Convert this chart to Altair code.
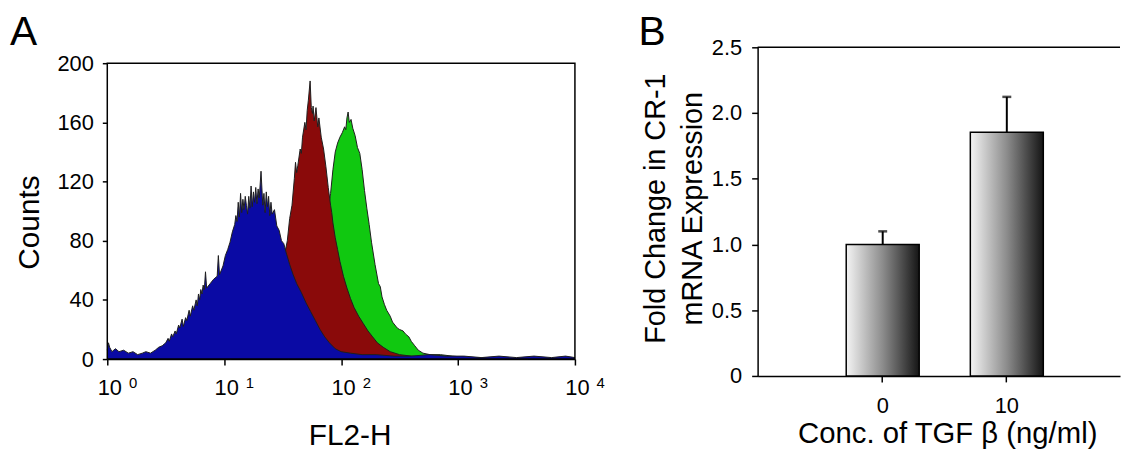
import altair as alt
import pandas as pd
import numpy as np

# ---------------- Panel A: flow-cytometry histograms ----------------
# log10(FL2-H) positions and counts
blue_log = [0.00, 0.01, 0.02, 0.04, 0.07, 0.10, 0.14, 0.18, 0.22, 0.26, 0.30, 0.33, 0.37, 0.41,
            0.44, 0.47, 0.50, 0.52, 0.53, 0.55, 0.56, 0.58, 0.59, 0.61, 0.62, 0.64, 0.65, 0.67,
            0.68, 0.70, 0.71, 0.73, 0.74, 0.76, 0.77, 0.78, 0.79, 0.80, 0.81, 0.82, 0.83,
            0.84, 0.85, 0.88, 0.91, 0.94, 0.95, 0.96, 0.99, 1.01, 1.03, 1.05, 1.07, 1.09,
            1.10, 1.11, 1.12, 1.13, 1.14, 1.15, 1.16, 1.17, 1.18, 1.19, 1.20, 1.21, 1.22, 1.23,
            1.24, 1.25, 1.26, 1.27, 1.28, 1.29, 1.30, 1.315, 1.33, 1.34, 1.35, 1.36, 1.37, 1.38,
            1.39, 1.40, 1.41, 1.43, 1.45, 1.47, 1.49, 1.51, 1.53, 1.56, 1.59, 1.62, 1.66,
            1.70, 1.74, 1.78, 1.82, 1.86, 1.90, 1.95, 2.00, 2.08, 2.18, 2.30, 2.45, 2.60, 2.75,
            2.90, 3.05, 3.20, 3.35, 3.50, 3.65, 3.80, 3.92, 4.00]
blue_cnt = [6, 11, 8, 5, 7, 5, 6, 4, 5, 3, 4, 5, 4, 6,
            8, 9, 11, 14, 12, 17, 15, 19, 17, 23, 21, 27, 22, 28,
            26, 33, 29, 36, 33, 40, 36, 44, 40, 47, 44, 50, 47,
            59, 48, 51, 54, 56, 70, 57, 63, 70, 74, 79, 86, 91,
            97, 93, 106, 96, 112, 99, 108, 101, 110, 104, 98, 110, 102, 117,
            103, 113, 106, 116, 105, 115, 109, 127, 104, 112, 99, 113, 103, 110,
            97, 106, 98, 101, 90, 87, 80, 78, 72, 64, 57, 51, 45,
            38, 32, 26, 20, 15, 11, 7, 5, 4, 3, 3, 2, 2, 3,
            2, 2, 1, 2, 1, 2, 1, 2, 1]

red_log = [1.05, 1.15, 1.25, 1.33, 1.40, 1.45, 1.49, 1.52, 1.54, 1.56, 1.58, 1.60, 1.61, 1.62,
           1.63, 1.65, 1.66, 1.67, 1.69, 1.70, 1.71, 1.72, 1.735, 1.745, 1.755, 1.76, 1.77,
           1.785, 1.80, 1.81, 1.83, 1.85, 1.87, 1.89, 1.91, 1.92, 1.93, 1.95, 1.97, 1.99, 2.02,
           2.05, 2.08, 2.11, 2.15, 2.19, 2.23, 2.27, 2.31, 2.36, 2.42, 2.50, 2.60, 2.75, 3.00,
           3.40]
red_cnt = [0, 2, 5, 10, 20, 35, 55, 72, 80, 95, 104, 122, 133, 126,
           131, 142, 139, 150, 160, 155, 168, 175, 188, 170, 166, 171, 161,
           170, 157, 163, 150, 142, 130, 116, 104, 99, 92, 82, 74, 66, 56,
           48, 41, 35, 29, 24, 19, 15, 11, 8, 5, 3, 2, 1, 1,
           0]

green_log = [1.55, 1.65, 1.72, 1.78, 1.82, 1.85, 1.88, 1.91, 1.93, 1.95, 1.97, 1.99, 2.01, 2.03,
             2.04, 2.05, 2.06, 2.07, 2.085, 2.10, 2.12, 2.14, 2.16, 2.18, 2.20, 2.22, 2.24, 2.26,
             2.29, 2.32, 2.335, 2.35, 2.37, 2.39, 2.42, 2.44, 2.46, 2.48, 2.50, 2.53, 2.55, 2.58,
             2.60, 2.63, 2.66, 2.70, 2.76, 2.85, 2.95, 3.10, 3.30, 3.60]
green_cnt = [0, 4, 14, 30, 50, 72, 95, 112, 128, 140, 146, 150, 153, 157,
             155, 163, 167, 160, 162, 156, 151, 143, 139, 128, 114, 102, 91, 79,
             64, 51, 49, 42, 37, 33, 29, 25, 23, 21, 20, 19, 17, 15,
             12, 9, 6, 4, 3, 3, 2, 1, 1, 0]

decade_exponents = [0, 1, 2, 3, 4]
count_ticks = [0, 40, 80, 120, 160, 200]
panel_letters = ["A", "B"]

# ---------------- Panel B: bar chart ----------------
conc_labels = ["0", "10"]
fold_mean = [1.0, 1.853]
fold_err = [0.10, 0.27]
fold_ticks = [0, 0.5, 1.0, 1.5, 2.0, 2.5]

FONT = "Liberation Sans"

# ---------- Panel A ----------
WA, HA = 471, 314
YMAX_A = 200 * HA / 298.0

def hist_df(logs, cnts):
    return pd.DataFrame({"FL2": np.power(10.0, np.array(logs)), "count": cnts})

XA = alt.X("FL2:Q",
           scale=alt.Scale(type="log", domain=[1, 10000], nice=False),
           axis=alt.Axis(values=[10 ** e for e in decade_exponents], labelExpr="'10'",
                         labelFlush=False, labelOverlap=False, labelFontSize=22,
                         labelPadding=13, labelOffset=2, tickSize=6, grid=False,
                         title="FL2-H", titleFontSize=30, titleX=244, titleY=86,
                         titleBaseline="alphabetic"))
YA = alt.Y("count:Q",
           scale=alt.Scale(domain=[0, YMAX_A], nice=False, zero=True),
           axis=alt.Axis(values=count_ticks, domain=False, labelFontSize=22, labelPadding=9,
                         tickSize=5, grid=False, title="Counts", titleFontSize=30,
                         titleX=-69, titleY=176, titleBaseline="alphabetic"))

def area_layer(logs, cnts, col):
    return alt.Chart(hist_df(logs, cnts)).mark_area(
        color=col, opacity=1,
        line={"color": "#1e1e1e", "strokeWidth": 1}
    ).encode(x=XA, y=YA)

green_a = area_layer(green_log, green_cnt, "#10c810")
red_a = area_layer(red_log, red_cnt, "#8a0a0a")
blue_a = area_layer(blue_log, blue_cnt, "#0a0aa4")

frame_df = pd.DataFrame({"FL2": [10 ** decade_exponents[0]], "FL2b": [10 ** decade_exponents[-1]],
                         "count": [count_ticks[0]], "countb": [count_ticks[-1]]})
frame_a = alt.Chart(frame_df).mark_rect(fill="white", fillOpacity=0, stroke="black",
                                        strokeWidth=1.5).encode(
    x=XA, x2="FL2b", y=YA, y2="countb")

sup_df = pd.DataFrame({"FL2": [10 ** e for e in decade_exponents],
                       "sup": [str(e) for e in decade_exponents]})
sup_a = alt.Chart(sup_df).mark_text(fontSize=15, align="center", baseline="alphabetic",
                                    dx=26, font=FONT, color="black").encode(
    x=XA, y=alt.value(343), text="sup:N")

letter_a = alt.Chart(pd.DataFrame({"L": [panel_letters[0]]})).mark_text(
    fontSize=41, align="left", baseline="alphabetic", font=FONT, color="black"
).encode(x=alt.value(-98), y=alt.value(-2), text="L:N")

panel_a = alt.layer(green_a, red_a, blue_a, frame_a, sup_a, letter_a).properties(
    width=WA, height=HA)

# ---------- Panel B ----------
WB, HB = 365, 331
bar_df = pd.DataFrame({"conc": conc_labels, "mean": fold_mean,
                       "upper": [m + e for m, e in zip(fold_mean, fold_err)]})

XB = alt.X("conc:N", sort=conc_labels,
           scale=alt.Scale(paddingInner=0.412, paddingOuter=0.666, align=0.536),
           axis=alt.Axis(labelAngle=0, tickSize=6, labelPadding=14, labelFontSize=22,
                         title="Conc. of TGF β (ng/ml)", titleFontSize=29.5, titleX=191,
                         titleY=67.5, titleBaseline="alphabetic"))

def YB(field):
    return alt.Y(field, scale=alt.Scale(domain=[0, fold_ticks[-1]], nice=False),
                 axis=alt.Axis(values=fold_ticks,
                               labelExpr="datum.value == 0 ? '0' : format(datum.value, '.1f')",
                               tickSize=6, labelPadding=10, labelFontSize=22, grid=False,
                               titleFontSize=29, titleLineHeight=38, titleX=-94, titleY=162,
                               titleBaseline="alphabetic"),
                 title=["Fold Change in CR-1", "mRNA Expression"])

grad = alt.Gradient(gradient="linear",
                    stops=[alt.GradientStop(color="#f4f4f4", offset=0),
                           alt.GradientStop(color="#8c8c8c", offset=0.5),
                           alt.GradientStop(color="#151515", offset=1)],
                    x1=0, x2=1, y1=0, y2=0)

bars = alt.Chart(bar_df).mark_bar(color=grad, stroke="black", strokeWidth=1.5).encode(
    x=XB, y=YB("mean:Q"))
err = alt.Chart(bar_df).mark_rule(color="black", strokeWidth=2).encode(
    x=XB, y=YB("mean:Q"), y2="upper:Q")
cap = alt.Chart(bar_df).mark_tick(color="black", size=9, thickness=2.5).encode(
    x=XB, y=YB("upper:Q"))
top_line = alt.Chart(pd.DataFrame({"t": [0]})).mark_rule(color="black", strokeWidth=1.5).encode(
    y=alt.datum(fold_ticks[-1]))
letter_b = alt.Chart(pd.DataFrame({"L": [panel_letters[1]]})).mark_text(
    fontSize=41, align="left", baseline="alphabetic", font=FONT, color="black"
).encode(x=alt.value(-120), y=alt.value(-2), text="L:N")

panel_b = alt.layer(bars, err, cap, top_line, letter_b).properties(width=WB, height=HB)

chart = alt.hconcat(panel_a, panel_b, spacing=33).properties(
    padding={"left": 2, "top": 3, "right": 0, "bottom": 0},
    background="white"
).configure_view(strokeWidth=0).configure_axis(
    domainColor="black", domainWidth=1.5, tickColor="black", tickWidth=1.5,
    labelColor="black", titleColor="black", labelFont=FONT, titleFont=FONT,
    titleFontWeight="normal"
).configure_text(font=FONT)

chart.save("out.html", embed_options={"renderer": "svg", "actions": False})
